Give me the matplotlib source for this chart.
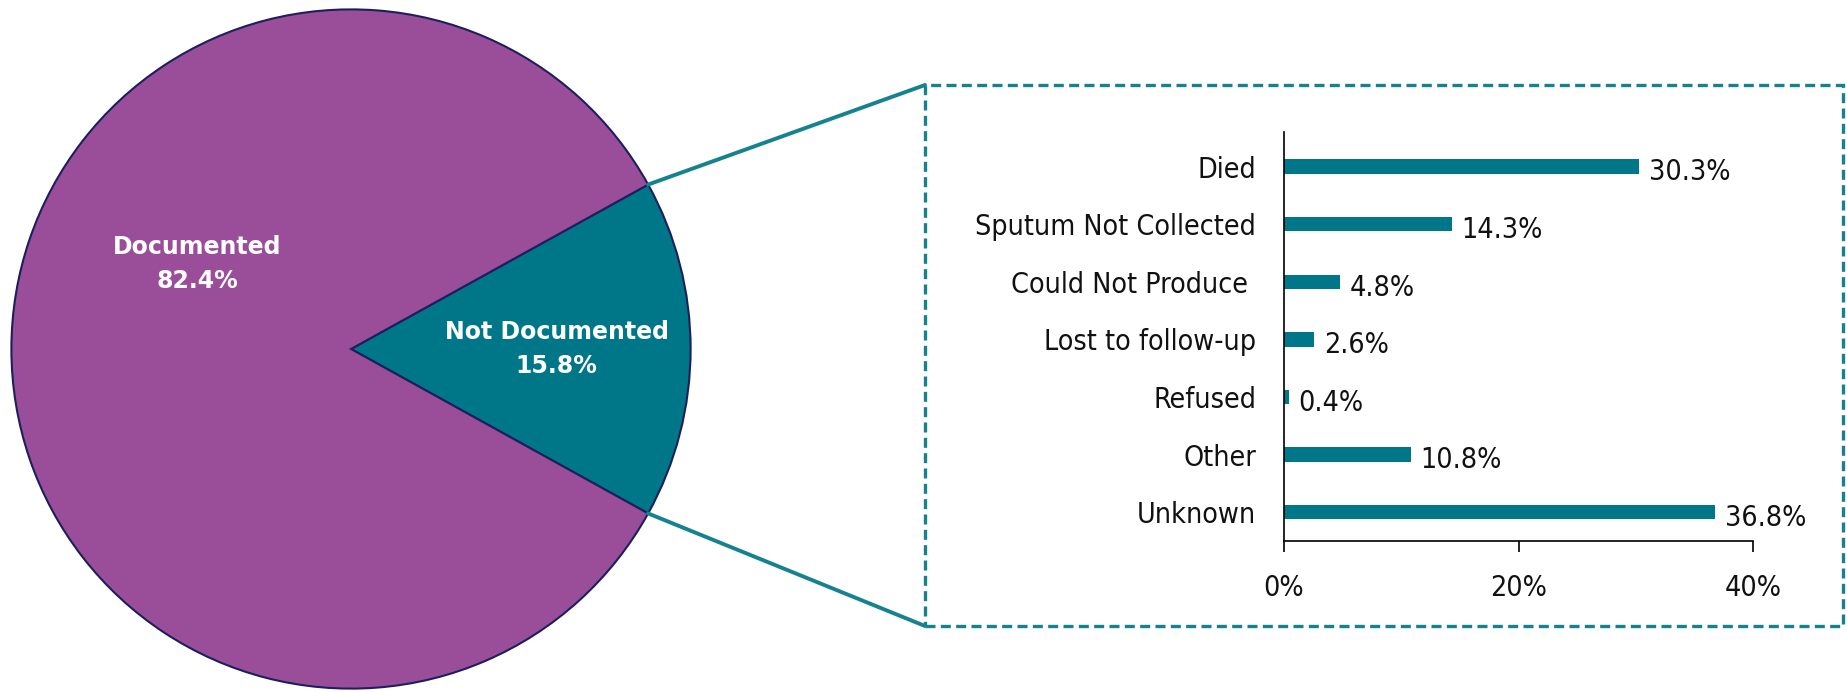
import numpy as np
import matplotlib.pyplot as plt
from matplotlib.patches import Rectangle, ConnectionPatch
from matplotlib.ticker import PercentFormatter

# pie data
pie_labels = ['Not Documented', 'Documented']
pie_values = [15.8, 82.4]

# breakdown of "Not Documented"
reasons = ['Died', 'Sputum Not Collected', 'Could Not Produce ', 'Lost to follow-up',
           'Refused', 'Other', 'Unknown']
reason_pct = [30.3, 14.3, 4.8, 2.6, 0.4, 10.8, 36.8]
x_ticks = [0, 20, 40]

purple = '#9A4E9A'
teal = '#007788'
line_teal = '#15828F'
edge = '#1C1F5C'

fig = plt.figure(figsize=(18.47, 6.92), dpi=100)

# pie
ax_pie = fig.add_axes([8 / 1847, 0.0, 686 / 1847, 686 / 692])
share = pie_values[0] / sum(pie_values) * 360
wedges, _ = ax_pie.pie(pie_values, colors=[teal, purple], startangle=-share / 2,
                       counterclock=True, radius=1,
                       wedgeprops=dict(edgecolor=edge, linewidth=1.5))
ax_pie.set_xlim(-1.01, 1.01)
ax_pie.set_ylim(-1.01, 1.01)
ax_pie.set_aspect('equal')
ax_pie.axis('off')

ax_pie.text(-0.453, 0.25, 'Documented\n82.4%', color='white', fontsize=17,
            fontweight='bold', ha='center', va='center', linespacing=1.5)
ax_pie.text(0.606, 0.0, 'Not Documented\n15.8%', color='white', fontsize=17,
            fontweight='bold', ha='center', va='center', linespacing=1.5)

# dashed box around breakdown
bx0, bx1 = 925 / 1847, 1843 / 1847
by0, by1 = 1 - 626 / 692, 1 - 85 / 692
fig.patches.append(Rectangle((bx0, by0), bx1 - bx0, by1 - by0, transform=fig.transFigure,
                             fill=False, edgecolor=line_teal, linewidth=2.4,
                             linestyle=(0, (3, 1.6))))

# connector lines from wedge edges to box corners
half = np.deg2rad(share / 2)
for sign, yb in [(1, by1), (-1, by0)]:
    pt = (np.cos(half), sign * np.sin(half))
    con = ConnectionPatch(xyA=pt, coordsA=ax_pie.transData, xyB=(bx0, yb),
                          coordsB=fig.transFigure, color=line_teal, linewidth=2.8)
    fig.add_artist(con)

# bar chart
ax = fig.add_axes([1284 / 1847, 1 - 541 / 692, (1753 - 1284) / 1847, (541 - 132) / 692])
y = np.arange(len(reasons))
ax.barh(y, reason_pct, height=0.25, color=teal)
ax.set_ylim(len(reasons) - 0.5, -0.6)
ax.set_xlim(0, 40)
ax.set_xticks(x_ticks)
ax.xaxis.set_major_formatter(PercentFormatter(decimals=0))
ax.set_yticks(y)
ax.set_yticklabels(reasons)
for s in ['top', 'right']:
    ax.spines[s].set_visible(False)
for s in ['left', 'bottom']:
    ax.spines[s].set_linewidth(1.2)
ax.tick_params(axis='y', length=0, pad=20)
ax.tick_params(axis='x', length=8, width=1.2, pad=16)
for lab in ax.get_xticklabels() + ax.get_yticklabels():
    lab.set_fontstretch('condensed')
    lab.set_fontsize(20.5)
    lab.set_color('#111111')
for yi, v in zip(y, reason_pct):
    ax.text(v + 0.8, yi + 0.1, f'{v}%', va='center', ha='left', fontsize=20.5,
            fontstretch='condensed', color='#111111')

fig.savefig('out.png', dpi=100)
